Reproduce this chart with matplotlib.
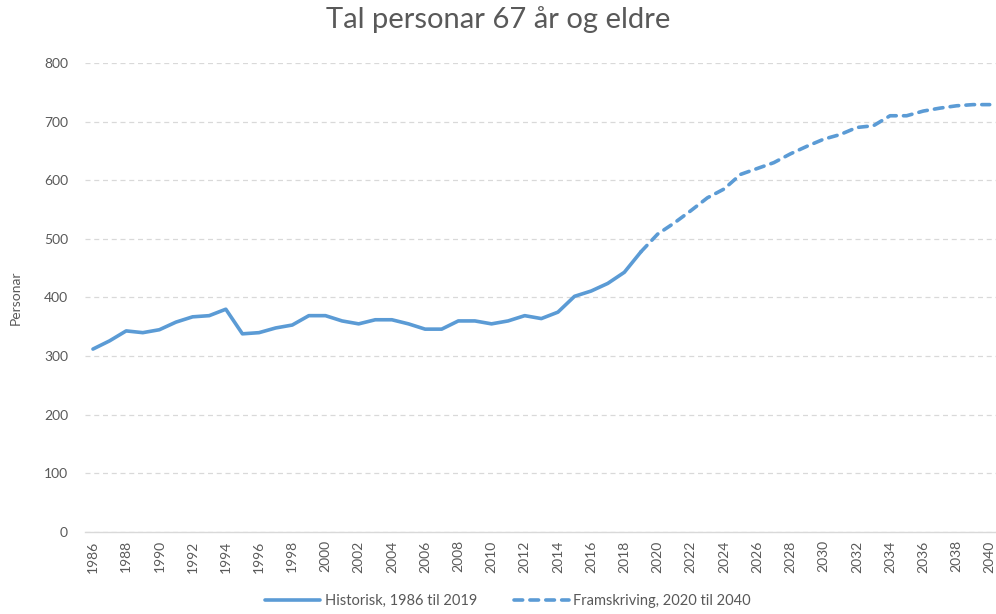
import numpy as np
import matplotlib.pyplot as plt

plt.rcParams['font.family'] = ['Lato', 'DejaVu Sans']

# data
years_hist = list(range(1986, 2020))
persons_hist = [312, 326, 343, 340, 345, 358, 367, 369, 380, 338,
                340, 348, 353, 369, 369, 360, 355, 362, 362, 355,
                346, 346, 360, 360, 355, 360, 369, 364, 375, 402,
                411, 424, 443, 478]
years_proj = list(range(2019, 2041))
persons_proj = [478, 508, 527, 548, 570, 585, 610, 620, 630, 645, 658,
                670, 678, 690, 693, 710, 710, 718, 723, 727, 729, 729]
all_years = list(range(1986, 2041))

col = '#5B9BD5'
grey = '#595959'

fig = plt.figure(figsize=(9.96, 6.14), dpi=100)
ax = fig.add_axes([0.085, 0.1336, 0.917, 0.7638])

x_hist = [all_years.index(y) for y in years_hist]
x_proj = [all_years.index(y) for y in years_proj]
ax.plot(x_hist, persons_hist, color=col, lw=2.6, solid_capstyle='round',
        label='Historisk, 1986 til 2019')
ax.plot(x_proj, persons_proj, color=col, lw=2.6, ls=(0, (2.4, 2.0)),
        dash_capstyle='round', label='Framskriving, 2020 til 2040')

ax.set_xlim(-0.5, len(all_years) - 0.5)
ax.set_ylim(0, 800)
ax.set_yticks(range(0, 801, 100))
ax.set_xticks(range(0, len(all_years), 2))
ax.set_xticklabels([str(y) for y in all_years[::2]], rotation=90)
ax.tick_params(axis='both', length=0, labelsize=10, colors=grey)
ax.tick_params(axis='y', pad=12)
ax.tick_params(axis='x', pad=6)

ax.grid(axis='y', color='#D9D9D9', ls=(0, (4, 3)), lw=0.9)
ax.set_axisbelow(True)
for s in ['top', 'right', 'left']:
    ax.spines[s].set_visible(False)
ax.spines['bottom'].set_color('#D9D9D9')
ax.spines['bottom'].set_linewidth(1)

ax.set_ylabel('Personar', fontsize=10, color=grey, labelpad=16)
fig.suptitle('Tal personar 67 år og eldre', fontsize=21, color=grey, y=0.99)

fig.legend(loc='lower center', bbox_to_anchor=(0.51, -0.012), ncol=2,
           frameon=False, fontsize=10.5, labelcolor=grey, handlelength=3.8,
           columnspacing=2.5, handletextpad=0.3)

fig.savefig('out.png', dpi=100)
